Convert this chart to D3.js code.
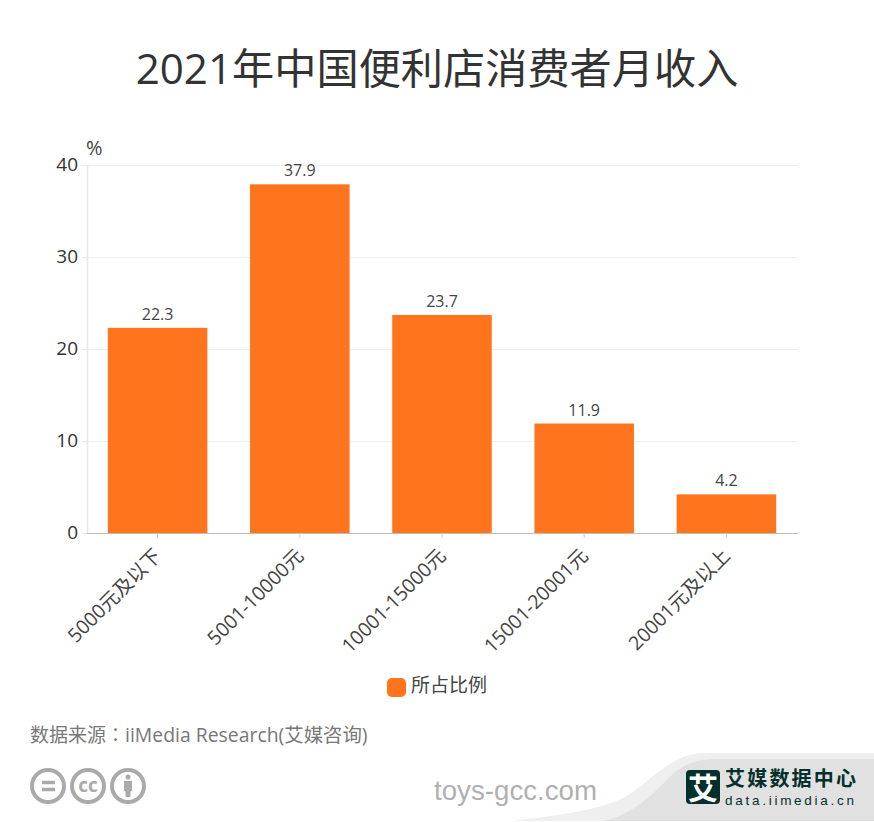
<!DOCTYPE html>
<html>
<head>
<meta charset="utf-8">
<style>
	html, body { margin: 0; padding: 0; background: #fff; }
	svg { display: block; }
	text { font-family: "Open Sans", "Noto Sans CJK SC", sans-serif; }
</style>
<script src="https://cdn.jsdelivr.net/npm/d3@7"></script>
</head>
<body>
<svg id="chart" width="874" height="822"></svg>
<script>
	var categories = ['5000元及以下', '5001-10000元', '10001-15000元', '15001-20001元', '20001元及以上'];
	var shares = [22.3, 37.9, 23.7, 11.9, 4.2];
	var yTicks = [0, 10, 20, 30, 40];
	var seriesName = '所占比例';
	var titleText = '2021年中国便利店消费者月收入';
	var sourceParts = ['数据来源', '：', 'iiMedia Research(艾媒咨询)'];

	var svg = d3.select('#chart');
	var orange = '#ff741c';

	var x = d3.scaleBand().domain(categories).range([86.5, 797.5]).paddingInner(0.3).paddingOuter(0.15);
	var y = d3.scaleLinear().domain([0, 40]).range([533, 165]);

	//_ footer band

	svg.append('path')
		.attr('d', 'M512 821 C560 815 600 810 625 797 C650 783 670 753 705 753 L874 753 L874 821 Z')
		.attr('fill', '#efefef');
	svg.append('path')
		.attr('d', 'M604 821 C630 815 650 797 665 782 C680 765 695 759 715 759 L874 759 L874 821 Z')
		.attr('fill', '#e1e1e1');

	//_ title

	svg.append('text')
		.attr('x', 437).attr('y', 84)
		.attr('text-anchor', 'middle')
		.attr('font-size', 42.2)
		.attr('fill', '#333')
		.text(titleText);

	//_ grid and axes

	svg.append('g').selectAll('line').data(yTicks.slice(1)).enter().append('line')
		.attr('x1', 87).attr('x2', 798)
		.attr('y1', function (d) { return y(d) + 0.5; })
		.attr('y2', function (d) { return y(d) + 0.5; })
		.attr('stroke', '#efefef');

	svg.append('line')
		.attr('x1', 87.5).attr('x2', 87.5).attr('y1', 165).attr('y2', 533)
		.attr('stroke', '#e8e8e8').attr('stroke-width', 1.5);

	var yAxis = svg.append('g')
		.attr('transform', 'translate(87,0)')
		.call(d3.axisLeft(y).tickValues(yTicks).tickSize(5).tickPadding(4));
	yAxis.select('.domain').remove();
	yAxis.selectAll('line').attr('stroke', '#e8e8e8');
	yAxis.selectAll('text').attr('font-size', 19).attr('fill', '#333')
		.attr('dy', '0.3em');

	//_ bars

	svg.append('g').selectAll('rect').data(shares).enter().append('rect')
		.attr('x', function (d, i) { return x(categories[i]); })
		.attr('y', function (d) { return y(d); })
		.attr('width', x.bandwidth())
		.attr('height', function (d) { return y(0) - y(d); })
		.attr('fill', orange);

	svg.append('g').selectAll('text').data(shares).enter().append('text')
		.attr('x', function (d, i) { return x(categories[i]) + x.bandwidth() / 2; })
		.attr('y', function (d) { return y(d) - 8; })
		.attr('text-anchor', 'middle')
		.attr('font-size', 16)
		.attr('fill', '#444')
		.text(function (d) { return d.toFixed(1); });

	var xAxis = svg.append('g')
		.attr('transform', 'translate(0,533)')
		.call(d3.axisBottom(x).tickSize(5).tickSizeOuter(0));
	xAxis.select('.domain').attr('stroke', '#bdbdbd');
	xAxis.selectAll('line').attr('stroke', '#ccc');
	xAxis.selectAll('text')
		.attr('font-size', 19.5)
		.attr('fill', '#444')
		.attr('text-anchor', 'end')
		.attr('y', 0).attr('dy', 0)
		.attr('transform', 'translate(5,24) rotate(-45)');

	svg.append('text')
		.attr('x', 86).attr('y', 155)
		.attr('font-size', 20).attr('fill', '#444')
		.text('%');

	//_ legend

	svg.append('rect')
		.attr('x', 387).attr('y', 678).attr('width', 19).attr('height', 19)
		.attr('rx', 5).attr('fill', orange);
	svg.append('text')
		.attr('x', 411).attr('y', 692)
		.attr('font-size', 19).attr('fill', '#444')
		.text(seriesName);

	//_ source

	var source = svg.append('text')
		.attr('x', 30).attr('y', 742)
		.attr('font-size', 19).attr('fill', '#777');
	source.selectAll('tspan').data(sourceParts).enter().append('tspan')
		.style('font-family', function (d, i) { return i === 1 ? '"Noto Sans CJK TC"' : null; })
		.style('font-size', function (d, i) { return i === 2 ? '19.4px' : null; })
		.text(function (d) { return d; });

	//_ licence badges

	var badges = svg.append('g').attr('fill', 'none').attr('stroke', '#aaa').attr('stroke-width', 4);
	[48, 88, 128].forEach(function (cx) {
		badges.append('circle').attr('cx', cx).attr('cy', 786).attr('r', 16);
	});
	badges.append('path').attr('d', 'M42 782.500H55M42 789.500H55').attr('stroke-width', 3.5);
	svg.append('text')
		.attr('x', 88).attr('y', 792).attr('text-anchor', 'middle')
		.attr('font-size', 19).attr('font-weight', 700).attr('fill', '#aaa')
		.text('cc');
	svg.append('circle').attr('cx', 128).attr('cy', 777).attr('r', 2.5).attr('fill', '#aaa');
	svg.append('path')
		.attr('d', 'M124 781H132V791H130.500V797H125.500V791H124Z')
		.attr('fill', '#aaa');

	//_ watermark

	svg.append('text')
		.attr('x', 434).attr('y', 800)
		.style('font-family', '"Liberation Sans", sans-serif')
		.attr('font-size', 27.7).attr('fill', '#b0b0b0')
		.text('toys-gcc.com');

	//_ logo

	svg.append('rect')
		.attr('x', 686).attr('y', 770).attr('width', 34).attr('height', 34)
		.attr('rx', 4).attr('fill', '#04302b');
	svg.append('text')
		.attr('x', 703).attr('y', 799).attr('text-anchor', 'middle')
		.attr('font-size', 30).attr('font-weight', 700).attr('fill', '#fff')
		.text('艾');
	svg.append('text')
		.attr('x', 725).attr('y', 786)
		.style('font-family', '"Noto Sans CJK SC", sans-serif')
		.attr('font-size', 20).attr('font-weight', 700).attr('fill', '#04302b')
		.attr('textLength', 131)
		.text('艾媒数据中心');
	svg.append('text')
		.attr('x', 725).attr('y', 805)
		.style('font-family', '"Liberation Sans", sans-serif')
		.attr('font-size', 13.5).attr('fill', '#04302b')
		.attr('textLength', 129)
		.text('data.iimedia.cn');
</script>
</body>
</html>
